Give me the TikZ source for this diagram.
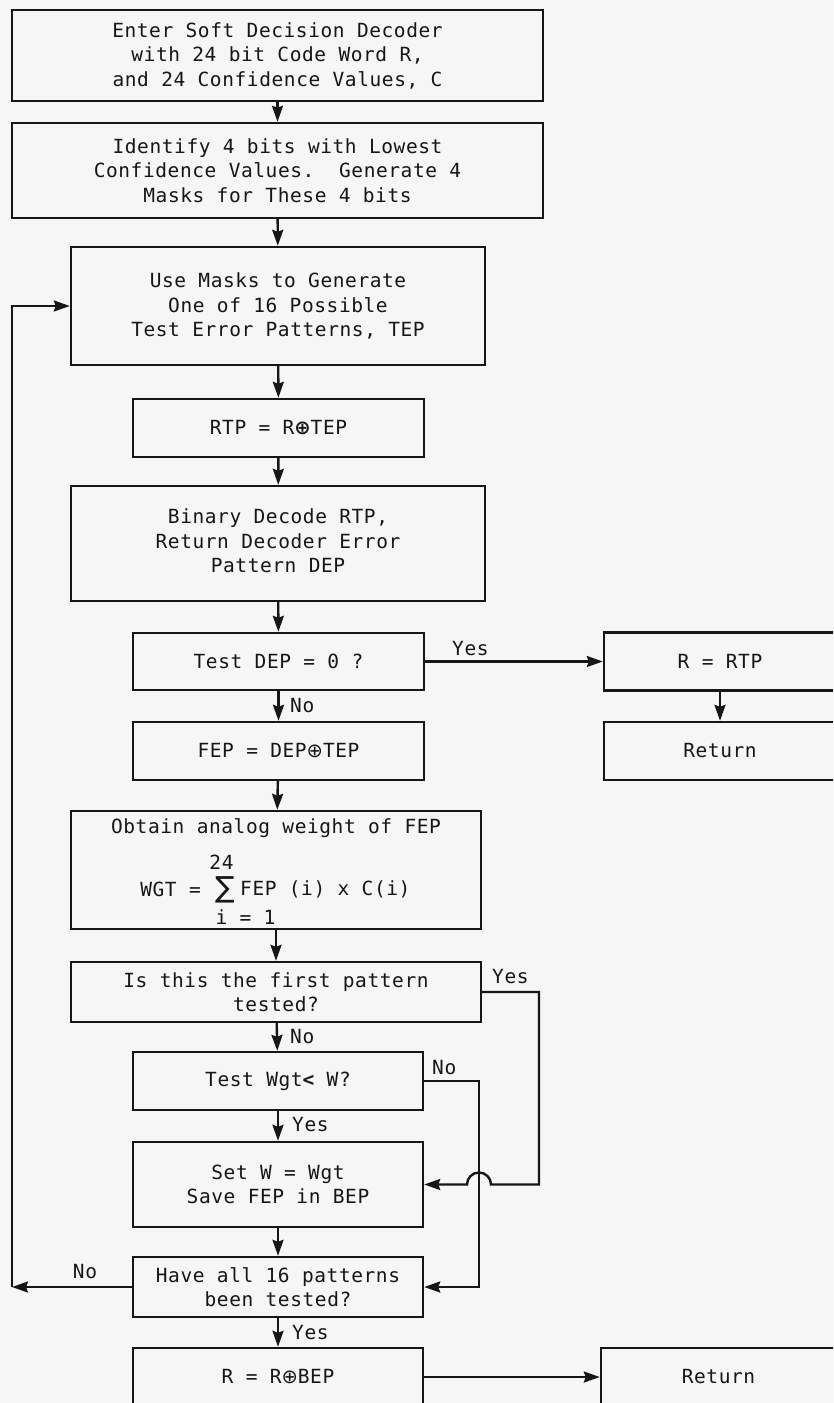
\documentclass[tikz,border=0pt]{standalone}
\usepackage{fontspec}
\newfontfamily\chartfont{DejaVu Sans Mono}[LetterSpace=3.0]
\newfontfamily\symfont{DejaVu Sans}
\usetikzlibrary{arrows.meta}
\definecolor{ink}{RGB}{22,22,22}
\definecolor{paper}{RGB}{246,246,246}
\newcommand{\oplussym}{{\symfont\bfseries ⊕}}
\tikzset{
  txt/.style={font=\chartfont\fontsize{19.5}{24.5}\selectfont, text=ink},
  proc/.style={txt, draw=ink, line width=2.4pt, inner sep=2pt, align=center},
  lbl/.style={txt, inner sep=0pt},
  wire/.style={draw=ink, line width=2.4pt},
  flow/.style={wire, -{Stealth[length=16pt,width=11pt,inset=2pt]}}
}
\begin{document}
\begin{tikzpicture}[x=1pt,y=-1pt]
\useasboundingbox (0,0) rectangle (833,1403);
\fill[paper] (0,0) rectangle (833,1403);
\clip (0,0) rectangle (833,1403);

% main column
\node[proc, minimum width=531pt, minimum height=91pt] (enter) at (277.5,55.5)
  {Enter Soft Decision Decoder\\with 24 bit Code Word R,\\and 24 Confidence Values, C};
\node[proc, minimum width=531pt, minimum height=95pt] (ident) at (277.5,170.5)
  {Identify 4 bits with Lowest\\Confidence Values.\ \ Generate 4\\Masks for These 4 bits};
\node[proc, minimum width=414pt, minimum height=118pt] (masks) at (278,306)
  {Use Masks to Generate\\One of 16 Possible\\Test Error Patterns, TEP};
\node[proc, minimum width=291pt, minimum height=58pt] (rtp) at (278.5,428)
  {RTP = R\oplussym TEP};
\node[proc, minimum width=414pt, minimum height=115pt] (binary) at (278,543.5) {};
\node[lbl, align=center] (bintxt) at (278,541)
  {Binary Decode RTP,\\Return Decoder Error\\Pattern DEP};
\node[proc, minimum width=291pt, minimum height=57pt] (tdep) at (278.5,661.5)
  {Test DEP = 0 ?};
\node[proc, minimum width=291pt, minimum height=58pt] (fep) at (278.5,751)
  {FEP = DEP{\symfont ⊕}TEP};

% weight computation box with its formula
\node[proc, minimum width=410pt, minimum height=118pt] (obtain) at (276,870) {};
\node[lbl] (obtxt) at (276,828) {Obtain analog weight of FEP};
\node[lbl] (upper) at (221.5,862) {24};
\node[lbl, anchor=east] (wgt) at (201,889) {WGT =};
\node[lbl, inner sep=0pt] (sigma) at (225,890) {\symfont\fontsize{29}{29}\selectfont ∑};
\node[lbl, anchor=west] (term) at (240,889) {FEP (i) x C(i)};
\node[lbl] (lower) at (245.5,917) {i = 1};

\node[proc, minimum width=410pt, minimum height=60pt] (first) at (276,992)
  {Is this the first pattern\\tested?};
\node[proc, minimum width=290pt, minimum height=58pt] (twgt) at (278,1081)
  {Test Wgt{\bfseries<} W?};
\node[proc, minimum width=290pt, minimum height=85pt] (setw) at (278,1184.5)
  {Set W = Wgt\\Save FEP in BEP};
\node[proc, minimum width=290pt, minimum height=60pt] (have) at (278,1287)
  {Have all 16 patterns\\been tested?};
\node[proc, minimum width=290pt, minimum height=58pt] (rbep) at (278,1377)
  {R = R{\symfont ⊕}BEP};

% right column
\node[proc, minimum width=232pt, minimum height=58pt] (rrtp) at (720,661.5) {R = RTP};
\node[proc, minimum width=232pt, minimum height=58pt] (ret1) at (720,751) {Return};
\node[proc, minimum width=235pt, minimum height=58pt] (ret2) at (718.5,1377) {Return};

% straight flow
\draw[flow] (enter) -- (ident);
\draw[flow] (ident) -- (masks);
\draw[flow] (masks) -- (rtp);
\draw[flow] (rtp) -- (binary);
\draw[flow] (binary) -- (tdep);
\draw[flow] (tdep) -- (fep);
\draw[flow] (fep) -- (obtain);
\draw[flow] (obtain) -- (first);
\draw[flow] (first) -- (twgt);
\draw[flow] (twgt) -- (setw);
\draw[flow] (setw) -- (have);
\draw[flow] (have) -- (rbep);
\draw[flow] (tdep) -- (rrtp);
\draw[flow] (rrtp) -- (ret1);
\draw[flow] (rbep.east) -- (ret2.west |- rbep.east);

% first pattern: jump over the "No" line into Set W
\coordinate (ytop) at (539,992);
\coordinate (ybot) at (539,1184.5);
\coordinate (hop) at (491,1184.5);
\draw[flow] (first.east) -- (ytop) -- (ybot) -- (hop)
  arc[start angle=0, end angle=180, radius=12pt] -- (setw.east);

% Wgt not smaller: skip to the end test
\coordinate (ntop) at (479,1081);
\coordinate (nbot) at (479,1287);
\draw[flow] (twgt.east) -- (ntop) -- (nbot) -- (have.east);

% loop back for the next test pattern
\coordinate (lbot) at (12,1287);
\coordinate (ltop) at (12,306);
\draw[flow] (have.west) -- (lbot);
\draw[flow] (lbot) -- (ltop) -- (masks.west);

% branch labels
\node[lbl, anchor=west] (yes1) at (452,649) {Yes};
\node[lbl, anchor=west] (no1) at (290,706) {No};
\node[lbl, anchor=west] (yes2) at (492,977) {Yes};
\node[lbl, anchor=west] (no2) at (290,1037) {No};
\node[lbl, anchor=west] (no3) at (432,1068) {No};
\node[lbl, anchor=west] (yes3) at (292,1125) {Yes};
\node[lbl] (no4) at (85,1272) {No};
\node[lbl, anchor=west] (yes4) at (292,1333) {Yes};
\end{tikzpicture}
\end{document}
